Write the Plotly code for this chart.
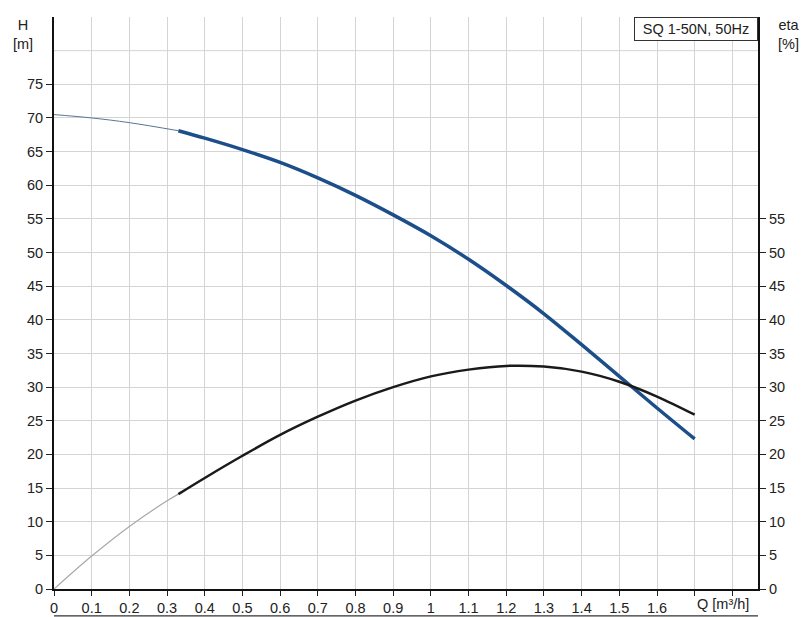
import plotly.graph_objects as go

# Data
q_h_thin = [0.0, 0.1, 0.2, 0.33]
h_thin = [70.5, 70.0, 69.3, 68.1]
q_h = [0.33, 0.4, 0.5, 0.6, 0.7, 0.8, 0.9, 1.0, 1.1, 1.2, 1.3, 1.4, 1.5, 1.6, 1.7]
h_vals = [68.1, 67.0, 65.3, 63.4, 61.1, 58.5, 55.6, 52.5, 49.0, 45.1, 40.9, 36.3, 31.6, 26.9, 22.3]

q_eta_thin = [0.0, 0.1, 0.2, 0.3, 0.33]
eta_thin = [0.0, 4.9, 9.3, 13.1, 14.1]
q_eta = [0.33, 0.4, 0.5, 0.6, 0.7, 0.8, 0.9, 1.0, 1.1, 1.2, 1.3, 1.4, 1.5, 1.6, 1.7]
eta_vals = [14.1, 16.5, 19.8, 22.9, 25.6, 28.0, 30.0, 31.6, 32.6, 33.15, 33.05, 32.3, 30.8, 28.6, 25.9]

x_ticks = [round(i * 0.1, 1) for i in range(19)]
x_labels = [("0" if v == 0 else f"{v:g}") if v <= 1.6 else "" for v in x_ticks]
h_ticks = list(range(0, 80, 5))
eta_ticks = list(range(0, 60, 5))

font_family = "Liberation Sans, Arial, sans-serif"
grid_col = "#d4d4d4"
fs = 14.5

fig = go.Figure()
fig.add_trace(go.Scatter(x=q_h_thin, y=h_thin, mode="lines",
                         line=dict(color="#5a7593", width=1, shape="spline"),
                         showlegend=False, hoverinfo="skip"))
fig.add_trace(go.Scatter(x=q_h, y=h_vals, mode="lines",
                         line=dict(color="#1c4f8a", width=3.5, shape="spline"),
                         showlegend=False))
fig.add_trace(go.Scatter(x=q_eta_thin, y=eta_thin, mode="lines",
                         line=dict(color="#a8a8a8", width=1.2, shape="spline"),
                         showlegend=False, hoverinfo="skip", yaxis="y2"))
fig.add_trace(go.Scatter(x=q_eta, y=eta_vals, mode="lines",
                         line=dict(color="#1a1a1a", width=2.5, shape="spline"),
                         showlegend=False, yaxis="y2"))

fig.update_layout(
    width=802, height=609,
    margin=dict(l=46, r=52, t=9, b=28),
    paper_bgcolor="white", plot_bgcolor="white",
    font=dict(family=font_family, size=fs, color="#222"),
    xaxis=dict(range=[0, 1.868], tickvals=x_ticks, ticktext=x_labels,
               showgrid=True, gridcolor=grid_col, gridwidth=1,
               ticks="outside", ticklen=5, tickcolor="#222",
               showline=True, linecolor="#111", linewidth=2,
               zeroline=False, automargin=False, tickfont=dict(size=fs)),
    yaxis=dict(range=[0, 85], tickvals=h_ticks,
               showgrid=True, gridcolor=grid_col, gridwidth=1,
               ticks="outside", ticklen=6, tickcolor="#222",
               showline=True, linecolor="#111", linewidth=2,
               zeroline=False, automargin=False, tickfont=dict(size=fs)),
    yaxis2=dict(range=[0, 85], tickvals=eta_ticks, overlaying="y", side="right",
                showgrid=False, ticks="outside", ticklen=6, tickcolor="#222",
                showline=True, linecolor="#111", linewidth=2,
                zeroline=False, automargin=False, tickfont=dict(size=fs)),
    shapes=[
        dict(type="line", xref="paper", yref="y", x0=0, x1=1, y0=80, y1=80,
             line=dict(color=grid_col, width=1), layer="below"),
        dict(type="line", xref="paper", yref="paper", x0=0, x1=1,
             y0=-0.047, y1=-0.047, line=dict(color="#333", width=1.2)),
    ],
    annotations=[
        dict(text="H<br>[m]", xref="paper", yref="paper", x=-0.044, y=0.970,
             xanchor="center", yanchor="middle", showarrow=False,
             font=dict(size=fs), align="center"),
        dict(text="eta<br>[%]", xref="paper", yref="paper", x=1.044, y=0.970,
             xanchor="center", yanchor="middle", showarrow=False,
             font=dict(size=fs), align="center"),
        dict(text="Q [m³/h]", xref="x", yref="paper", x=1.775, y=0,
             xanchor="center", yanchor="top", yshift=-5, showarrow=False,
             font=dict(size=fs)),
        dict(text="SQ 1-50N, 50Hz", xref="paper", yref="paper", x=1, y=1,
             xanchor="right", yanchor="top", showarrow=False,
             width=116, height=16,
             bordercolor="#333", borderwidth=1, borderpad=3, bgcolor="white",
             font=dict(size=fs)),
    ],
)

fig.write_html("out.html")
